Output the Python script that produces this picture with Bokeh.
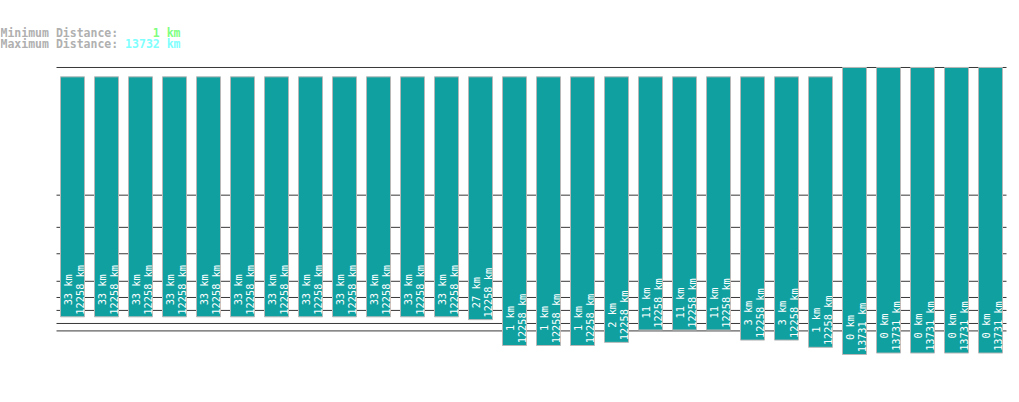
import numpy as np
from bokeh.plotting import figure
from bokeh.models import Range1d, Label
from bokeh.core.properties import value
from bokeh.embed import file_html
from bokeh.resources import INLINE

# ---- data ----
min_km = [33, 33, 33, 33, 33, 33, 33, 33, 33, 33, 33, 33,
          27, 1, 1, 1, 2, 11, 11, 11, 3, 3, 0.6,
          0, 0.02, 0.02, 0.02, 0.02]
max_km = [12258] * 23 + [13731] * 5
grid_km = [10, 20, 50, 100, 200, 500, 1000, 2000, 13732]
header_min_km = 1
header_max_km = 13732


def scale(d):
    """Compressed distance scale used by the chart (pixels above baseline)."""
    d = np.asarray(d, dtype=float)
    out = np.zeros_like(d)
    pos = d > 0
    L = np.log(d[pos])
    out[pos] = np.exp(np.log(9.0) + 0.436 * L - 0.00762 * L ** 2)
    return out


n = len(min_km)
idx = np.arange(n)
pitch = 34.0          # px between bar centres
W, H = 1015, 400
base_px = 354         # baseline position from the top of the canvas

x0 = -72.0 / pitch
p = figure(width=W, height=H,
           x_range=Range1d(x0, x0 + W / pitch),
           y_range=Range1d(base_px - H, base_px),
           output_backend="svg", toolbar_location=None,
           x_axis_location=None, y_axis_location=None,
           min_border=0, outline_line_color=None)
p.grid.visible = False
p.background_fill_color = "white"

# grid lines
gy = scale(grid_km)
pad = (12 + 4) / pitch
p.segment(x0=[-pad] * len(gy), x1=[n - 1 + pad] * len(gy), y0=gy, y1=gy,
          line_color="#383838", line_width=1)

# bars
bot = scale(min_km)
top = scale(max_km)
p.vbar(x=idx, width=24 / pitch, bottom=bot, top=top,
       fill_color="#10a0a0", line_color="#b8b8b8", line_width=1)

# labels inside bars
lab1 = [f"{round(v)} km" for v in min_km]
lab2 = [f"{round(v)} km" for v in max_km]
ty = bot + 27
common = dict(angle=np.pi / 2, text_align="center", text_baseline="middle",
              text_color="white", text_font=value("DejaVu Sans Mono"),
              text_font_size="10.3px")
p.text(x=idx, y=ty, text=lab1, x_offset=-5, **common)
p.text(x=idx, y=ty, text=lab2, x_offset=7, **common)

# header
fs = 11.5
cw = 0.602 * fs
hdr = dict(x_units="screen", y_units="screen", text_font="DejaVu Sans Mono",
           text_font_size=f"{fs}px", text_font_style="bold",
           text_baseline="alphabetic")
min_txt = f"{header_min_km} km"
max_txt = f"{header_max_km} km"
p.add_layout(Label(x=0, y=H - 32, text="Minimum Distance:", text_color="#b0b0b0", **hdr))
p.add_layout(Label(x=(26 - len(min_txt)) * cw, y=H - 32, text=min_txt, text_color="#80ff80", **hdr))
p.add_layout(Label(x=0, y=H - 43, text="Maximum Distance:", text_color="#b0b0b0", **hdr))
p.add_layout(Label(x=(26 - len(max_txt)) * cw, y=H - 43, text=max_txt, text_color="#80ffff", **hdr))

open("out.html", "w").write(file_html(p, INLINE))
